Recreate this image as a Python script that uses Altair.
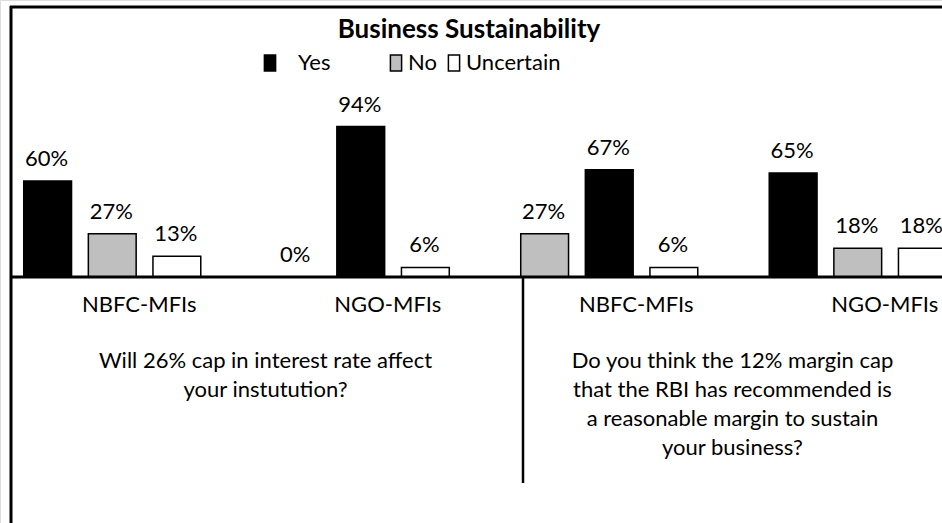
import altair as alt
import pandas as pd

# ---- data ----
groups = ["Q1 NBFC-MFIs", "Q1 NGO-MFIs", "Q2 NBFC-MFIs", "Q2 NGO-MFIs"]
group_labels = ["NBFC-MFIs", "NGO-MFIs", "NBFC-MFIs", "NGO-MFIs"]
series = ["Yes", "No", "Uncertain"]
series_colors = ["#000000", "#bfbfbf", "#ffffff"]
yes_vals = [60, 94, 67, 65]
no_vals = [27, 0, 27, 18]
unc_vals = [13, 6, 6, 18]
# order in which the three bars appear inside each group
bar_order = [
    ["Yes", "No", "Uncertain"],
    ["No", "Yes", "Uncertain"],
    ["No", "Yes", "Uncertain"],
    ["Yes", "No", "Uncertain"],
]
questions = ["Q1", "Q2"]
question_texts = [
    "Will 26% cap in interest rate affect\nyour instutution?",
    "Do you think the 12% margin cap\nthat the RBI has recommended is\na reasonable margin to sustain\nyour business?",
]
title_text = "Business Sustainability"

FONT = "Lato"
FS = 22
BLANK = "\u2800"

vals = {"Yes": yes_vals, "No": no_vals, "Uncertain": unc_vals}
rows = []
for gi, g in enumerate(groups):
    for s in series:
        v = vals[s][gi]
        rows.append({"group": g, "series": s, "value": v,
                     "slot": bar_order[gi].index(s), "label": f"{v}%"})
df = pd.DataFrame(rows)
df_groups = pd.DataFrame({"group": groups, "glabel": group_labels})
df_q = pd.DataFrame({"question": questions, "qtext": question_texts})

x_scale = alt.Scale(domain=groups, range=[-12, 982], paddingInner=0, paddingOuter=0)
xoff_scale = alt.Scale(domain=[0, 1, 2], paddingInner=0.26, paddingOuter=0.553)
y_scale = alt.Scale(domain=[0, 100], range=[277, 117])

X = alt.X("group:N", scale=x_scale, axis=None)
XO = alt.XOffset("slot:O", scale=xoff_scale)
Y = alt.Y("value:Q", scale=y_scale, axis=None)

# Excel-like legend spacing: extra room around "Yes"
yes_label = BLANK + "Yes" + BLANK * 3
legend = alt.Legend(
    orient="none", legendX=259, legendY=52, direction="horizontal", title=None,
    symbolType="M-0.7,-1H0.7V1H-0.7Z", symbolSize=256,
    symbolStrokeColor="black", symbolStrokeWidth=1.5,
    labelFont=FONT, labelFontSize=FS, labelColor="black", labelOffset=1,
    labelExpr=f"datum.label == 'Yes' ? '{yes_label}' : datum.label",
    columnPadding=6,
)

bars = alt.Chart(df).mark_bar(stroke="black", strokeWidth=1.5).encode(
    x=X, xOffset=XO, y=Y,
    color=alt.Color("series:N", scale=alt.Scale(domain=series, range=series_colors), legend=legend),
)

bar_labels = alt.Chart(df).mark_text(font=FONT, fontSize=FS, color="black",
                                     baseline="middle", dy=-22, dx=-1).encode(
    x=X, xOffset=XO, y=Y, text="label:N",
)

cat_labels = alt.Chart(df_groups).mark_text(font=FONT, fontSize=FS, color="black",
                                            baseline="middle", dx=27).encode(
    x=X, y=alt.value(305), text="glabel:N",
)

q_labels = alt.Chart(df_q).mark_text(font=FONT, fontSize=FS, color="black",
                                     baseline="top", lineBreak="\n", lineHeight=29).encode(
    x=alt.X("question:N", scale=alt.Scale(domain=questions, range=[32, 966],
                                           paddingInner=0, paddingOuter=0), axis=None),
    y=alt.value(351), text="qtext:N",
)

title = alt.Chart(pd.DataFrame({"t": [title_text]})).mark_text(
    font=FONT, fontSize=26, fontWeight="bold", color="black", baseline="middle"
).encode(x=alt.value(469), y=alt.value(30), text="t:N")

one = pd.DataFrame({"a": [0]})
frame_top = alt.Chart(one).mark_rule(color="black", strokeWidth=3).encode(
    x=alt.value(10), x2=alt.value(942), y=alt.value(7))
frame_left = alt.Chart(one).mark_rule(color="black", strokeWidth=3).encode(
    x=alt.value(11), y=alt.value(6), y2=alt.value(523))
baseline = alt.Chart(one).mark_rule(color="black", strokeWidth=3).encode(
    x=alt.value(10), x2=alt.value(942), y=alt.value(277))
divider = alt.Chart(one).mark_rule(color="black", strokeWidth=2.5).encode(
    x=alt.value(523), y=alt.value(277), y2=alt.value(483))

chart = alt.layer(
    bars, bar_labels, cat_labels, q_labels, title,
    frame_top, frame_left, baseline, divider,
).resolve_scale(x="independent").properties(
    width=942, height=523, padding=0,
    autosize=alt.AutoSizeParams(type="none"),
).configure_view(stroke=None).configure(background="white")

chart.save("out.html", embed_options={"renderer": "svg", "actions": False})
